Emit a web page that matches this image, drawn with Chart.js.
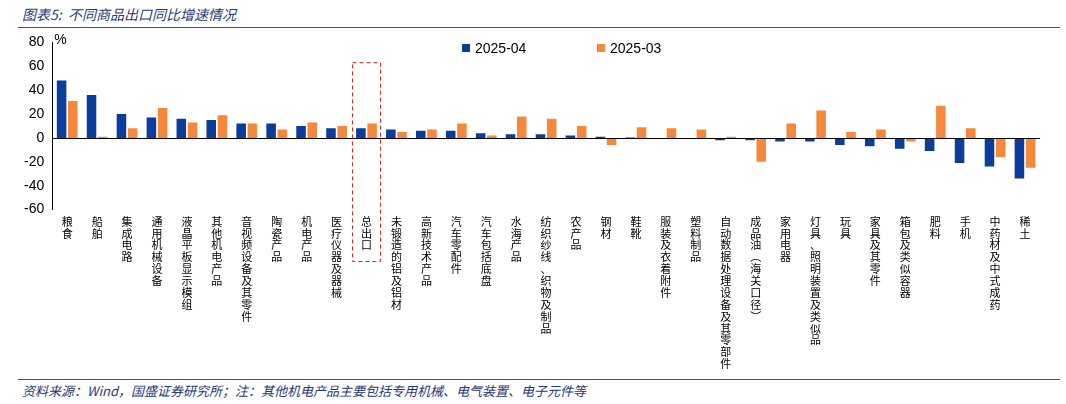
<!DOCTYPE html>
<html><head><meta charset="utf-8">
<script src="https://cdn.jsdelivr.net/npm/chart.js@4.4.1/dist/chart.umd.min.js"></script>
<style>
body{margin:0;width:1066px;height:404px;background:#fff;font-family:"Noto Sans CJK SC",sans-serif;position:relative;overflow:hidden}
#title{position:absolute;left:22px;top:4px;font-size:14px;font-style:italic;color:#1f3a7a}
#tline{position:absolute;left:18px;right:6px;top:27px;border-top:1px solid #1f5aa8}
#bline{position:absolute;left:18px;right:6px;top:379px;border-top:1px solid #1f5aa8}
#foot{position:absolute;left:22px;top:381px;font-size:13px;font-style:italic;color:#1f3a7a}
#wrap{position:absolute;left:0;top:30px;width:1040px;height:346px}
</style></head><body>
<div id="title">图表5:&nbsp;&nbsp;不同商品出口同比增速情况</div>
<div id="tline"></div>
<div id="wrap"><canvas id="c"></canvas></div>
<div id="bline"></div>
<div id="foot">资料来源：Wind，国盛证券研究所；注：其他机电产品主要包括专用机械、电气装置、电子元件等</div>
<script>
const categories = ["粮食","船舶","集成电路","通用机械设备","液晶平板显示模组","其他机电产品","音视频设备及其零件","陶瓷产品","机电产品","医疗仪器及器械","总出口","未锻造的铝及铝材","高新技术产品","汽车零配件","汽车包括底盘","水海产品","纺织纱线、织物及制品","农产品","钢材","鞋靴","服装及衣着附件","塑料制品","自动数据处理设备及其零部件","成品油︵海关口径︶","家用电器","灯具、照明装置及类似品","玩具","家具及其零件","箱包及类似容器","肥料","手机","中药材及中式成药","稀土"];
const apr2025 = [48,36,20,17,16,15,12,12,10,8,8,7,6,6,4,3,3,2,1,0.3,-1,-1,-2,-2,-3,-3,-6,-7,-9,-11,-21,-24,-34];
const mar2025 = [31,1,8,25,13,19,12,7,13,10,12,5,7,12,2,18,16,10,-6,9,8,7,1,-20,12,23,5,7,-3,27,8,-16,-25];
const yTicks = [-60,-40,-20,0,20,40,60,80];
const seriesNames = ['2025-04','2025-03'];
const seriesColors = ['#0a3d9c','#f5883a'];

const extras = {
  id:'extras',
  afterDraw(chart){
    const {ctx, scales:{x,y}, chartArea} = chart;
    ctx.save();
    ctx.strokeStyle='#000'; ctx.lineWidth=1;
    const zy = Math.round(y.getPixelForValue(0))+0.5;
    ctx.beginPath(); ctx.moveTo(chartArea.left, zy); ctx.lineTo(chartArea.right, zy); ctx.stroke();
    const i = categories.indexOf("总出口");
    const cx = x.getPixelForValue(i);
    ctx.strokeStyle='#e02020'; ctx.setLineDash([4,3]);
    const top = y.getPixelForValue(63);
    ctx.strokeRect(cx-14, top, 28, chartArea.bottom + 52 - top);
    ctx.setLineDash([]);
    ctx.fillStyle='#000'; ctx.font='14px "Liberation Sans"'; ctx.textBaseline='middle';
    ctx.fillText('%', chartArea.left + 2, y.getPixelForValue(80)-2);
    const lx = [462, 597];
    seriesNames.forEach((n,k)=>{
      ctx.fillStyle=seriesColors[k]; ctx.fillRect(lx[k], 14, 8, 8);
      ctx.fillStyle='#000'; ctx.fillText(n, lx[k]+13, 19);
    });
    ctx.restore();
  }
};

new Chart(document.getElementById('c'), {
  type:'bar',
  data:{
    labels: categories.map(s => s.split('')),
    datasets:seriesNames.map((n,k)=>({label:n, data:[apr2025,mar2025][k], backgroundColor:seriesColors[k], barPercentage:0.85, categoryPercentage:0.75}))
  },
  options:{
    responsive:true, maintainAspectRatio:false, animation:false,
    layout:{padding:{left:20,top:10,right:0}},
    plugins:{legend:{display:false}, tooltip:{enabled:false}},
    scales:{
      x:{grid:{display:false, drawTicks:false}, border:{display:false},
        ticks:{autoSkip:false, maxRotation:0, minRotation:0, color:'#000', font:{size:11,family:'Noto Sans CJK SC', lineHeight:1.08}, padding:6}},
      y:{min:-60, max:80, grid:{display:false, drawTicks:true, tickLength:4}, border:{display:true, color:'#000'},
        afterBuildTicks(s){ s.ticks = yTicks.map(v=>({value:v})); },
        ticks:{autoSkip:false, color:'#000', font:{size:14,family:'Liberation Sans'}, padding:4}}
    }
  },
  plugins:[extras]
});
</script>
</body></html>
